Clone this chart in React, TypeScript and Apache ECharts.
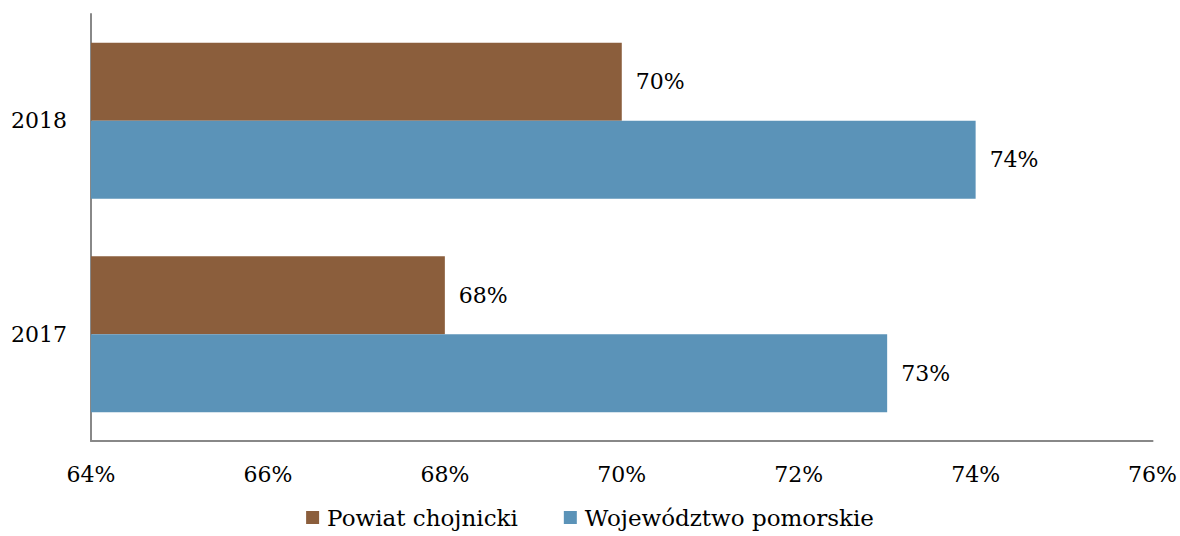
import React, { useEffect, useRef } from "react";
import * as echarts from "echarts";

const categories = ["2017", "2018"];
const seriesNames = ["Powiat chojnicki", "Województwo pomorskie"];
const powiat = [68, 70];
const wojewodztwo = [73, 74];
const colors = ["#8B5E3C", "#5B93B8"];
const FONT = "DejaVu Serif";

export default function App() {
  const ref = useRef<HTMLDivElement>(null);
  useEffect(() => {
    if (!ref.current) return;
    const chart = echarts.init(ref.current, null, { renderer: "svg" });
    const label = {
      show: true,
      position: "right",
      distance: 14,
      formatter: (p: any) => p.value + "%",
      color: "#000",
      fontFamily: FONT,
      fontSize: 22,
    };
    chart.setOption({
      animation: false,
      textStyle: { fontFamily: FONT },
      grid: { left: 91, right: 27, top: 14, bottom: 95, containLabel: false },
      legend: {
        bottom: 2,
        left: "center",
        itemWidth: 13,
        itemHeight: 13,
        itemGap: 46,
        icon: "rect",
        textStyle: { fontFamily: FONT, fontSize: 23, color: "#000", padding: [0, 0, 0, 3] },
        data: seriesNames,
      },
      xAxis: {
        type: "value",
        min: 64,
        max: 76,
        interval: 2,
        splitLine: { show: false },
        axisLine: { show: true, lineStyle: { color: "#888", width: 2 } },
        axisTick: { show: false },
        axisLabel: {
          formatter: (v: number) => v + "%",
          color: "#000",
          fontFamily: FONT,
          fontSize: 22,
          margin: 22,
        },
      },
      yAxis: {
        type: "category",
        data: categories,
        axisLine: { show: true, lineStyle: { color: "#888", width: 2 } },
        axisTick: { show: false },
        axisLabel: { color: "#000", fontFamily: FONT, fontSize: 22, margin: 24 },
      },
      series: [
        {
          name: seriesNames[0],
          type: "bar",
          data: powiat,
          itemStyle: { color: colors[0] },
          barGap: "0%",
          barCategoryGap: "27%",
          label,
        },
        {
          name: seriesNames[1],
          type: "bar",
          data: wojewodztwo,
          itemStyle: { color: colors[1] },
          barGap: "0%",
          barCategoryGap: "27%",
          label,
        },
      ],
    });
    return () => chart.dispose();
  }, []);
  return <div ref={ref} style={{ width: 1180, height: 536, position: "absolute", left: 0, top: 0 }} />;
}
